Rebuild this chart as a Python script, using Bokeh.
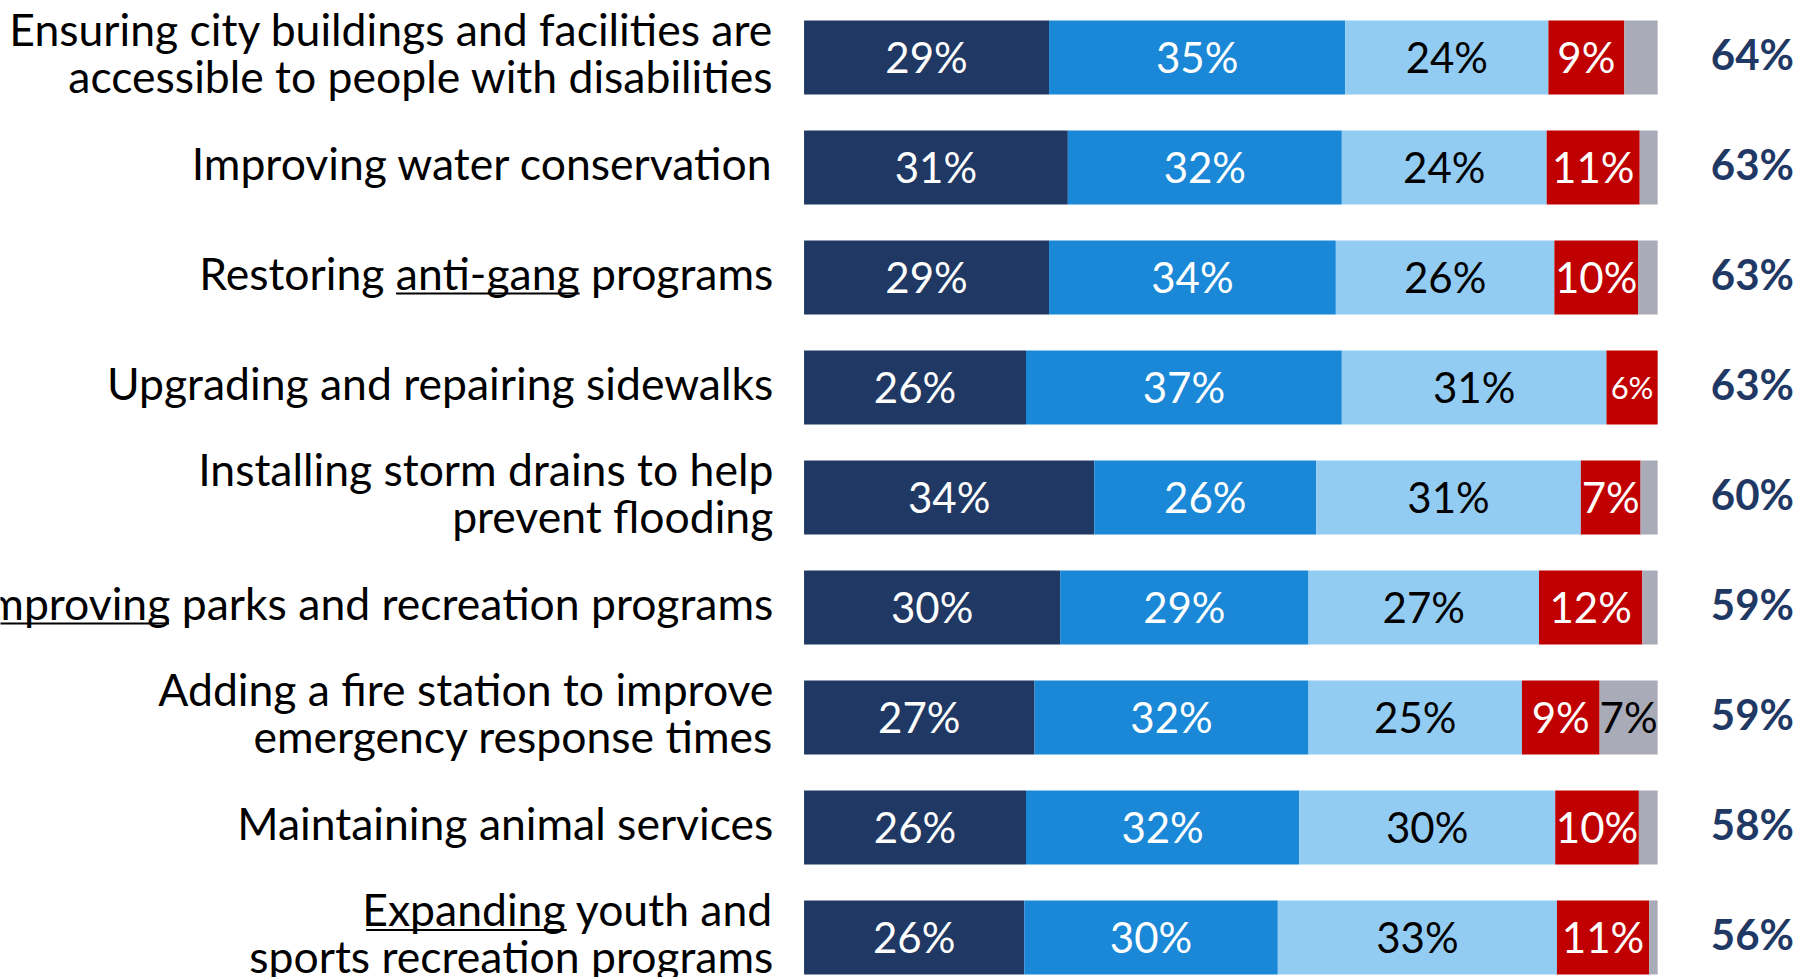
from bokeh.plotting import figure
from bokeh.models import Range1d, ColumnDataSource
from bokeh.core.properties import value
from bokeh.embed import file_html
from bokeh.resources import INLINE

# ---------------- data ----------------
categories = [
    ["Ensuring city buildings and facilities are", "accessible to people with disabilities"],
    ["Improving water conservation"],
    ["Restoring anti-gang programs"],
    ["Upgrading and repairing sidewalks"],
    ["Installing storm drains to help", "prevent flooding"],
    ["Improving parks and recreation programs"],
    ["Adding a fire station to improve", "emergency response times"],
    ["Maintaining animal services"],
    ["Expanding youth and", "sports recreation programs"],
]
very_important = [28.7, 30.9, 28.7, 26.0, 34.0, 30.0, 27.0, 26.0, 25.8]
somewhat_important = [34.7, 32.1, 33.6, 37.0, 26.0, 29.1, 32.1, 32.0, 29.7]
less_important = [23.8, 24.0, 25.6, 31.0, 31.0, 27.0, 25.0, 30.0, 32.7]
not_important = [8.9, 10.9, 9.8, 6.0, 7.0, 12.1, 9.1, 9.8, 10.8]
dont_know = [3.9, 2.1, 2.3, 0.0, 2.0, 1.8, 6.8, 2.2, 1.0]
total_important = [64, 63, 63, 63, 60, 59, 59, 58, 56]

# underlined words: (row, line, start %, end %)
underlines = [(2, 0, -47.8, -26.3), (5, 0, -100.0, -74.4), (8, 0, -51.3, -27.8)]

# ---------------- style ----------------
FONT = "Lato"
series = [very_important, somewhat_important, less_important, not_important, dont_know]
colors = ["#1F3864", "#1A88D6", "#92CCF2", "#C00000", "#A9ABB8"]
text_colors = ["white", "white", "black", "white", "black"]

ROW_PX = 110.0
W, H = 1798, 977
p = figure(width=W, height=H, output_backend="svg", toolbar_location=None,
           x_range=Range1d(-94.14, 116.5), y_range=Range1d(8.364, -0.518),
           min_border=0, outline_line_color=None)
p.axis.visible = False
p.grid.visible = False
p.background_fill_color = "white"
p.border_fill_color = "white"

n = len(categories)
rows = list(range(n))
left = [0.0] * n
for s, col, tcol in zip(series, colors, text_colors):
    right = [l + v for l, v in zip(left, s)]
    src = ColumnDataSource(dict(y=rows, left=left, right=right))
    p.hbar(y="y", left="left", right="right", height=74 / ROW_PX, source=src,
           fill_color=col, line_color=None)
    big = dict(x=[], y=[], t=[])
    small = dict(x=[], y=[], t=[])
    for i in rows:
        v = s[i]
        if v < 5:
            continue
        d = small if v < 6.5 else big
        d["x"].append((left[i] + right[i]) / 2)
        d["y"].append(i)
        d["t"].append(f"{round(v)}%")
    for d, fs in ((big, "42px"), (small, "31px")):
        if d["t"]:
            p.text(x="x", y="y", text="t", source=ColumnDataSource(d),
                   text_font=value(FONT), text_font_size=fs, text_color=tcol,
                   text_align="center", text_baseline="middle")
    left = right

# category labels
LINE_GAP = 47.0
lx, ly, lt = [], [], []
for i, lines in enumerate(categories):
    m = len(lines)
    for k, line in enumerate(lines):
        lx.append(-3.6)
        ly.append(i + (-5 + (k - (m - 1) / 2) * LINE_GAP) / ROW_PX)
        lt.append(line)
p.text(x=lx, y=ly, text=lt, text_font=value(FONT), text_font_size="44.5px",
       text_color="black", text_align="right", text_baseline="middle")

# underlines
ux0, ux1, uy = [], [], []
for r, k, a, b in underlines:
    m = len(categories[r])
    ux0.append(a)
    ux1.append(b)
    uy.append(r + (-5 + (k - (m - 1) / 2) * LINE_GAP + 21) / ROW_PX)
p.segment(x0=ux0, y0=uy, x1=ux1, y1=uy, line_color="black", line_width=2)

# totals
p.text(x=[111.1] * n, y=[r - 3 / ROW_PX for r in rows], text=[f"{t}%" for t in total_important],
       text_font=value(FONT), text_font_size="42px", text_font_style="bold",
       text_color="#1F3864", text_align="center", text_baseline="middle")

open("out.html", "w").write(file_html(p, INLINE))
